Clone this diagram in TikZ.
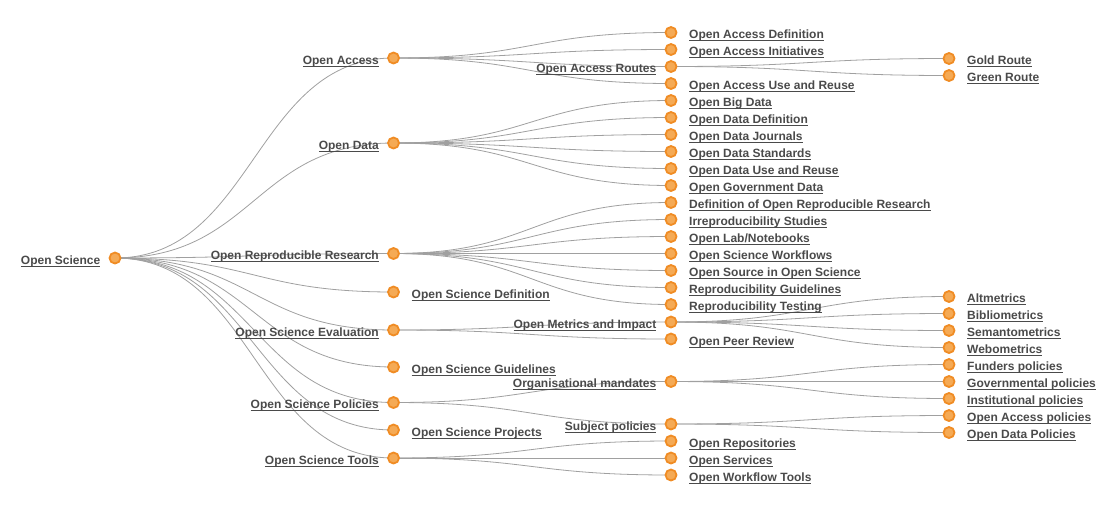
\documentclass[tikz,border=0pt]{standalone}
\usepackage{fontspec}
\setmainfont{Liberation Sans}
\usetikzlibrary{calc,backgrounds}
\definecolor{txt}{HTML}{4A4A4A}
\definecolor{linkc}{HTML}{A0A0A0}
\definecolor{ring}{HTML}{F08C24}
\definecolor{dotfill}{HTML}{F5AA55}
\newcommand\ulbox[1]{\setbox0\hbox{#1}\rlap{\rule[-2.4pt]{\wd0}{0.9pt}}\box0}
\tikzset{
  hnode/.style={circle, draw=ring, fill=dotfill, line width=1.8pt, minimum size=11pt, inner sep=0pt},
  lblr/.style={anchor=base west, inner sep=0pt, text=txt, font=\bfseries\fontsize{12}{14}\selectfont},
  lbll/.style={anchor=base east, inner sep=0pt, text=txt, font=\bfseries\fontsize{12}{14}\selectfont},
  linkline/.style={draw=linkc, line width=0.8pt}
}
\newcommand\leafn[4]{\node[hnode] (#1) at (#2,#3) {}; \node[lblr] (#1-t) at ({#2+18},{#3+6}) {\ulbox{#4}};}
\newcommand\innern[4]{\node[hnode] (#1) at (#2,#3) {}; \node[lbll] (#1-t) at ({#2-14.5},{#3+6}) {\ulbox{#4}};}
\newcommand\lnk[2]{\draw[linkline] let \p1=(#1.center), \p2=(#2.center) in (\p1) .. controls ({0.5*\x1+0.5*\x2},\y1) and ({0.5*\x1+0.5*\x2},\y2) .. (\p2);}
\begin{document}
\begin{tikzpicture}[x=1pt,y=-1pt]
\useasboundingbox (0,0) rectangle (1110,523);
% root
\innern{root}{115}{258}{Open Science}
% depth 1
\innern{oa}{393.5}{58}{Open Access}
\innern{od}{393.5}{143}{Open Data}
\innern{orr}{393.5}{253.5}{Open Reproducible Research}
\leafn{osd}{393.5}{292}{Open Science Definition}
\innern{ose}{393.5}{330}{Open Science Evaluation}
\leafn{osg}{393.5}{367}{Open Science Guidelines}
\innern{osp}{393.5}{402.5}{Open Science Policies}
\leafn{ospr}{393.5}{430}{Open Science Projects}
\innern{ost}{393.5}{458}{Open Science Tools}
% depth 2
\leafn{oa1}{671}{32.5}{Open Access Definition}
\leafn{oa2}{671}{49.5}{Open Access Initiatives}
\innern{oa3}{671}{66.5}{Open Access Routes}
\leafn{oa4}{671}{83.5}{Open Access Use and Reuse}
\leafn{od1}{671}{100.5}{Open Big Data}
\leafn{od2}{671}{117.5}{Open Data Definition}
\leafn{od3}{671}{134.5}{Open Data Journals}
\leafn{od4}{671}{151.5}{Open Data Standards}
\leafn{od5}{671}{168.5}{Open Data Use and Reuse}
\leafn{od6}{671}{185.5}{Open Government Data}
\leafn{r1}{671}{202.5}{Definition of Open Reproducible Research}
\leafn{r2}{671}{219.5}{Irreproducibility Studies}
\leafn{r3}{671}{236.5}{Open Lab/Notebooks}
\leafn{r4}{671}{253.5}{Open Science Workflows}
\leafn{r5}{671}{270.5}{Open Source in Open Science}
\leafn{r6}{671}{287.5}{Reproducibility Guidelines}
\leafn{r7}{671}{304.5}{Reproducibility Testing}
\innern{e1}{671}{322}{Open Metrics and Impact}
\leafn{e2}{671}{339}{Open Peer Review}
\innern{p1}{671}{381.5}{Organisational mandates}
\innern{p2}{671}{424}{Subject policies}
\leafn{t1}{671}{441}{Open Repositories}
\leafn{t2}{671}{458}{Open Services}
\leafn{t3}{671}{475}{Open Workflow Tools}
% depth 3
\leafn{g1}{949}{58.5}{Gold Route}
\leafn{g2}{949}{75.5}{Green Route}
\leafn{m1}{949}{296.5}{Altmetrics}
\leafn{m2}{949}{313.5}{Bibliometrics}
\leafn{m3}{949}{330.5}{Semantometrics}
\leafn{m4}{949}{347.5}{Webometrics}
\leafn{q1}{949}{364.5}{Funders policies}
\leafn{q2}{949}{381.5}{Governmental policies}
\leafn{q3}{949}{398.5}{Institutional policies}
\leafn{s1}{949}{415.5}{Open Access policies}
\leafn{s2}{949}{432.5}{Open Data Policies}
\begin{pgfonlayer}{background}
\foreach \c in {oa,od,orr,osd,ose,osg,osp,ospr,ost} {\lnk{root}{\c}}
\foreach \c in {oa1,oa2,oa3,oa4} {\lnk{oa}{\c}}
\foreach \c in {od1,od2,od3,od4,od5,od6} {\lnk{od}{\c}}
\foreach \c in {r1,r2,r3,r4,r5,r6,r7} {\lnk{orr}{\c}}
\foreach \c in {e1,e2} {\lnk{ose}{\c}}
\foreach \c in {p1,p2} {\lnk{osp}{\c}}
\foreach \c in {t1,t2,t3} {\lnk{ost}{\c}}
\foreach \c in {g1,g2} {\lnk{oa3}{\c}}
\foreach \c in {m1,m2,m3,m4} {\lnk{e1}{\c}}
\foreach \c in {q1,q2,q3} {\lnk{p1}{\c}}
\foreach \c in {s1,s2} {\lnk{p2}{\c}}
\end{pgfonlayer}
\end{tikzpicture}
\end{document}
